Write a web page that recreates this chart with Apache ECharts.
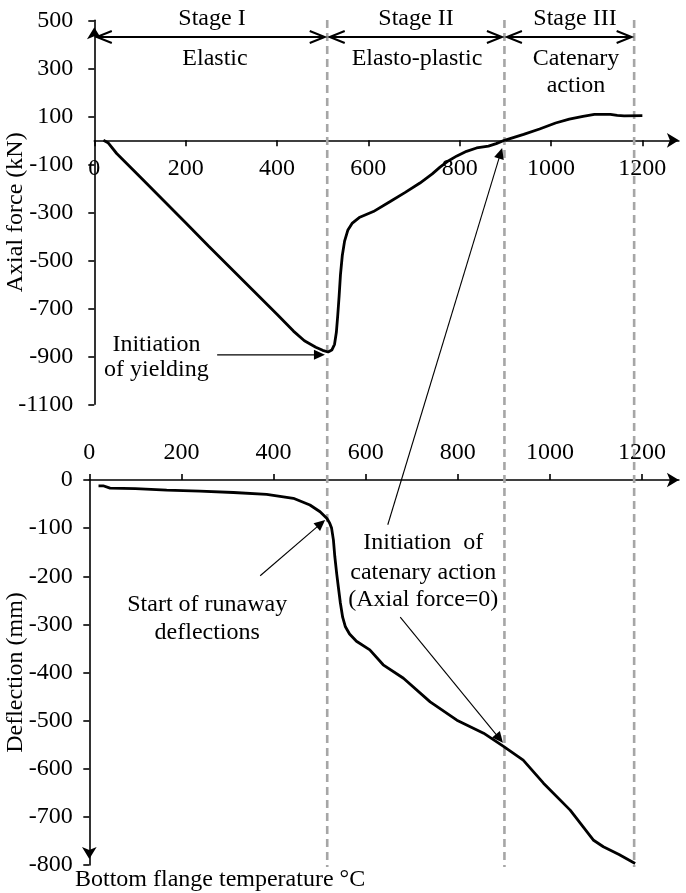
<!DOCTYPE html>
<html>
<head>
<meta charset="utf-8">
<script src="https://cdn.jsdelivr.net/npm/echarts@6/dist/echarts.min.js"></script>
<style>
  html, body { margin: 0; padding: 0; background: #fff; }
  #chart { width: 686px; height: 893px; }
</style>
</head>
<body>
<div id="chart"></div>
<script>
// Beam response against bottom flange temperature
const axialTemp = [20, 30, 49, 100, 150, 200, 250, 300, 350, 400, 436, 460, 485, 500, 512, 520, 526, 530, 533, 536, 539, 543, 548, 555, 565, 580, 611, 647, 680, 713, 740, 757, 775, 794, 815, 837, 863, 880, 898, 940, 975, 1010, 1040, 1070, 1095, 1130, 1145, 1160, 1200];
const axialForce = [0, -10, -55, -152, -248, -344, -440, -535, -630, -725, -795, -835, -862, -875, -882, -874, -850, -800, -730, -650, -560, -480, -420, -375, -345, -322, -297, -256, -218, -178, -140, -112, -86, -65, -46, -32, -24, -14, 0, 25, 47, 72, 88, 100, 108, 108, 104, 102, 103];

const deflTemp = [20, 30, 45, 100, 168, 240, 313, 385, 443, 479, 501, 516, 522, 526, 530, 533, 537, 541, 545, 550, 556, 565, 580, 609, 638, 682, 740, 798, 856, 900, 942, 986, 1044, 1094, 1116, 1150, 1185];
const deflection = [-12, -12, -17, -18, -21, -23, -26, -30, -38, -52, -66, -80, -90, -100, -125, -159, -194, -225, -255, -285, -305, -320, -335, -353, -384, -412, -461, -499, -526, -554, -582, -630, -686, -748, -762, -778, -797];

// Tick values
const tempTicks = [0, 200, 400, 600, 800, 1000, 1200];
const axialTicks = [-1100, -900, -700, -500, -300, -100, 100, 300, 500];
const deflTicks = [0, -100, -200, -300, -400, -500, -600, -700, -800];

// Stage boundaries (°C) and headings
const stageBounds = [0, 510, 898, 1182];
const stageNames = ['Stage I', 'Stage II', 'Stage III'];
const stageDescs = [['Elastic'], ['Elasto-plastic'], ['Catenary', 'action']];

const FONT = '"Liberation Serif", "Times New Roman", serif';
const BLACK = '#000';

const axisLine = (symbol, offset, onZero) => ({
  show: true,
  onZero: onZero,
  symbol: symbol,
  symbolSize: [11, 12],
  symbolOffset: offset,
  lineStyle: { color: BLACK, width: 1.6 }
});
const tick = (vals) => ({ show: true, customValues: vals, length: 6, lineStyle: { color: BLACK, width: 1.6 } });
const label = (vals, margin) => ({
  show: true, customValues: vals, margin: margin, fontSize: 24, color: BLACK, fontFamily: FONT,
  formatter: (v) => String(v)
});
const axisName = { fontSize: 24, color: BLACK, fontFamily: FONT };

const option = {
  animation: false,
  backgroundColor: '#fff',
  textStyle: { fontFamily: FONT, color: BLACK },
  grid: [
    { left: 94.3, top: 20.3, width: 584.6, height: 384, outerBoundsMode: 'none' },
    { left: 89.3, top: 480, width: 589.6, height: 385, outerBoundsMode: 'none' }
  ],
  xAxis: [
    // temperature axis of the upper panel sits on the zero-force line
    { type: 'value', gridIndex: 0, min: 0, max: 1280, position: 'bottom', offset: -264,
      axisLine: axisLine(['none', 'arrow'], [0, 0], false), axisTick: tick(tempTicks),
      axisLabel: label(tempTicks, 16), splitLine: { show: false } },
    { type: 'value', gridIndex: 1, min: 0, max: 1280, position: 'top',
      axisLine: axisLine(['none', 'arrow'], [0, 0], false), axisTick: tick(tempTicks),
      axisLabel: label(tempTicks, 15), splitLine: { show: false } }
  ],
  yAxis: [
    { type: 'value', gridIndex: 0, min: -1100, max: 500,
      axisLine: axisLine(['none', 'arrow'], [0, -7], false), axisTick: tick(axialTicks),
      axisLabel: label(axialTicks, 21), splitLine: { show: false },
      name: 'Axial force (kN)', nameLocation: 'middle', nameGap: 67, nameMoveOverlap: false,
      nameTextStyle: axisName },
    { type: 'value', gridIndex: 1, min: -800, max: 0,
      axisLine: axisLine(['arrow', 'none'], [6, 0], false), axisTick: tick(deflTicks),
      axisLabel: label(deflTicks, 16.5), splitLine: { show: false },
      name: 'Deflection (mm)', nameLocation: 'middle', nameGap: 62, nameMoveOverlap: false,
      nameTextStyle: axisName }
  ],
  series: [
    { type: 'line', xAxisIndex: 0, yAxisIndex: 0, showSymbol: false, symbol: 'none', silent: true, z: 4,
      lineStyle: { color: BLACK, width: 2.8 },
      data: axialTemp.map((t, i) => [t, axialForce[i]]) },
    { type: 'line', xAxisIndex: 1, yAxisIndex: 1, showSymbol: false, symbol: 'none', silent: true, z: 4,
      lineStyle: { color: BLACK, width: 2.8 },
      data: deflTemp.map((t, i) => [t, deflection[i]]) }
  ]
};

const chart = echarts.init(document.getElementById('chart'), null, { renderer: 'canvas' });
chart.setOption(option);

const topPx = (t, f) => chart.convertToPixel({ gridIndex: 0 }, [t, f]);
const botPx = (t, d) => chart.convertToPixel({ gridIndex: 1 }, [t, d]);

const graphics = [];
const text = (str, x, y, align) => graphics.push({
  type: 'text', x: x, y: y, z: 10, silent: true,
  style: { text: str, fill: BLACK, font: '24px ' + FONT, align: align || 'center', verticalAlign: 'middle' }
});

// Arrow head at p1, filled or open
function arrow(p0, p1, opts) {
  const dx = p1[0] - p0[0], dy = p1[1] - p0[1];
  const len = Math.hypot(dx, dy);
  const ux = dx / len, uy = dy / len;
  const L = opts.headLen, W = opts.headW;
  const bx = p1[0] - ux * L, by = p1[1] - uy * L;
  const a = [bx - uy * W, by + ux * W], b = [bx + uy * W, by - ux * W];
  if (opts.filled) {
    return [{ type: 'polygon', z: 10, silent: true, shape: { points: [p1, a, b] }, style: { fill: BLACK } }];
  }
  return [{ type: 'polyline', z: 10, silent: true, shape: { points: [a, p1, b] },
    style: { stroke: BLACK, lineWidth: opts.width, fill: null, lineJoin: 'miter' } }];
}
function annotationArrow(p0, p1) {
  const dx = p1[0] - p0[0], dy = p1[1] - p0[1];
  const len = Math.hypot(dx, dy);
  const end = [p1[0] - dx / len * 8, p1[1] - dy / len * 8];
  graphics.push({ type: 'line', z: 10, silent: true, shape: { x1: p0[0], y1: p0[1], x2: end[0], y2: end[1] },
    style: { stroke: BLACK, lineWidth: 1.1 } });
  graphics.push(...arrow(p0, p1, { filled: true, headLen: 11, headW: 5 }));
}

// Stage boundaries spanning both panels
stageBounds.slice(1).forEach(t => {
  const x = topPx(t, 0)[0];
  graphics.push({ type: 'line', z: 2, silent: true, shape: { x1: x, y1: 20, x2: x, y2: 867 },
    style: { stroke: '#a6a6a6', lineWidth: 2.6, lineDash: [8, 5] } });
});

// Stage headings with double arrows
const stageLabelX = [212, 416, 575];
stageNames.forEach((name, i) => {
  const x0 = topPx(stageBounds[i], 0)[0] + 2.5;
  const x1 = topPx(stageBounds[i + 1], 0)[0] - 2.5;
  const y = 37;
  graphics.push({ type: 'line', z: 10, silent: true, shape: { x1: x0, y1: y, x2: x1, y2: y },
    style: { stroke: BLACK, lineWidth: 2 } });
  graphics.push(...arrow([x1, y], [x0, y], { filled: false, headLen: 15, headW: 6, width: 2 }));
  graphics.push(...arrow([x0, y], [x1, y], { filled: false, headLen: 15, headW: 6, width: 2 }));
  text(name, stageLabelX[i], 19);
  stageDescs[i].forEach((d, j) => text(d, stageLabelX[i] + (i === 0 ? 3 : 1), 59 + j * 27));
});

// Annotations
const yieldText = topPx(136, -853);
text('Initiation', yieldText[0], yieldText[1]);
text('of yielding', yieldText[0], yieldText[1] + 25);
annotationArrow(topPx(269, -894), topPx(505, -894));

const runText = botPx(256, -260);
text('Start of runaway', runText[0], runText[1]);
text('deflections', runText[0], runText[1] + 28);
annotationArrow(botPx(371, -199), botPx(512, -83));

const catText = botPx(725, -131);
text('Initiation  of', catText[0], catText[1]);
text('catenary action', catText[0], catText[1] + 30);
text('(Axial force=0)', catText[0], catText[1] + 57);
annotationArrow(botPx(648, -93), topPx(893, -32));
annotationArrow(botPx(675, -285), botPx(898, -546));

text('Bottom flange temperature \u00B0C', 75, 880, 'left');

chart.setOption({ graphic: graphics });
</script>
</body>
</html>
